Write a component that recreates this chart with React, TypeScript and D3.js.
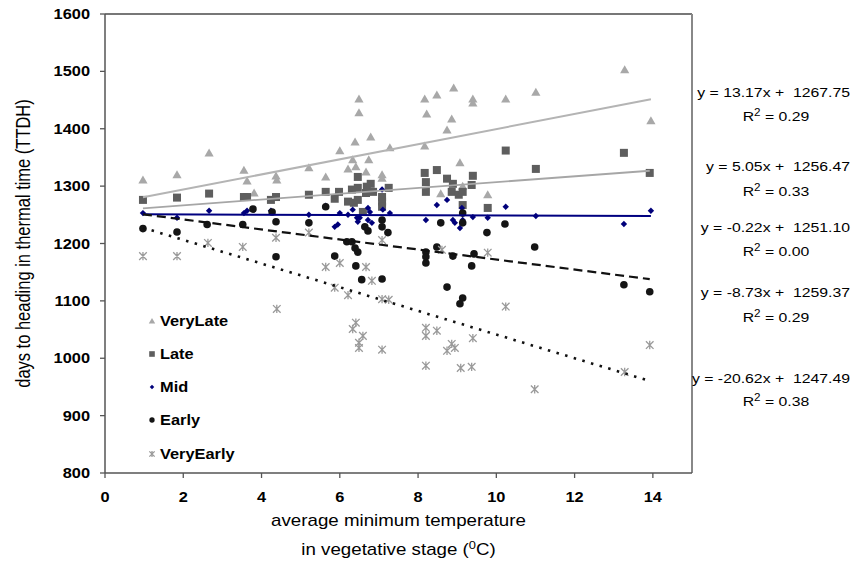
import React from 'react';
import * as d3 from 'd3';

const W = 860;
const H = 562;
const SX = 1.17;
const FONT = '"Liberation Sans", Arial, Helvetica, sans-serif';

// ---- data ----
const seriesNames = ['VeryLate', 'Late', 'Mid', 'Early', 'VeryEarly'];

const veryLateX = [0.97, 1.84, 2.66, 3.55, 3.63, 3.81, 4.37, 4.39, 5.21, 5.64, 6.0, 6.39, 6.49, 6.49, 6.79, 6.74, 6.33, 6.21, 6.41, 6.67, 7.08, 7.08, 7.28, 8.17, 8.48, 8.91, 9.4, 9.4, 10.24, 11.01, 8.22, 8.86, 8.74, 8.17, 9.07, 8.58, 9.14, 9.78, 13.28, 13.95];
const veryLateY = [1311, 1320, 1358, 1328, 1309, 1288, 1318, 1311, 1332, 1316, 1362, 1377, 1452, 1428, 1386, 1346, 1346, 1330, 1334, 1325, 1320, 1314, 1367, 1452, 1459, 1471, 1452, 1445, 1452, 1464, 1426, 1417, 1398, 1370, 1341, 1287, 1300, 1285, 1503, 1414];

const lateX = [0.97, 1.84, 2.66, 3.55, 3.63, 4.24, 4.37, 5.21, 5.64, 5.98, 5.87, 6.31, 6.46, 6.46, 6.69, 6.79, 6.85, 6.67, 6.21, 6.36, 6.46, 7.08, 7.08, 7.08, 6.59, 7.25, 8.17, 8.48, 8.2, 8.2, 8.74, 8.89, 8.86, 9.04, 9.14, 9.37, 9.4, 9.14, 9.78, 10.24, 11.01, 13.26, 13.92];
const lateY = [1276, 1280, 1287, 1281, 1281, 1276, 1281, 1285, 1290, 1290, 1278, 1294, 1297, 1316, 1299, 1304, 1290, 1288, 1273, 1271, 1276, 1281, 1273, 1264, 1255, 1297, 1323, 1328, 1307, 1290, 1313, 1304, 1290, 1285, 1290, 1302, 1318, 1267, 1262, 1362, 1330, 1358, 1323];

const midX = [0.97, 1.84, 2.66, 3.55, 3.63, 4.24, 5.21, 5.64, 5.87, 5.95, 6.0, 6.21, 6.33, 6.44, 6.46, 6.51, 6.72, 6.77, 6.72, 6.82, 7.08, 7.1, 7.28, 8.2, 8.48, 8.74, 8.89, 8.94, 9.07, 9.14, 9.12, 9.4, 9.78, 10.24, 11.01, 13.26, 13.95];
const midY = [1253, 1245, 1257, 1253, 1257, 1257, 1250, 1266, 1229, 1233, 1253, 1250, 1259, 1245, 1238, 1245, 1262, 1255, 1241, 1236, 1294, 1259, 1253, 1241, 1267, 1276, 1241, 1236, 1227, 1241, 1262, 1246, 1245, 1264, 1248, 1234, 1257];

const earlyX = [0.97, 1.84, 2.61, 3.52, 3.78, 4.27, 4.37, 4.37, 5.21, 5.64, 5.87, 6.18, 6.31, 6.39, 6.46, 6.41, 6.56, 7.08, 7.23, 7.08, 7.08, 6.64, 6.72, 8.2, 8.2, 8.2, 8.48, 8.58, 8.74, 8.89, 9.07, 9.14, 9.14, 9.14, 9.37, 9.43, 9.76, 10.22, 10.98, 13.26, 13.92];
const earlyY = [1226, 1220, 1233, 1233, 1260, 1255, 1238, 1177, 1236, 1264, 1178, 1203, 1203, 1192, 1185, 1161, 1137, 1138, 1219, 1241, 1229, 1229, 1222, 1185, 1177, 1166, 1194, 1236, 1124, 1178, 1095, 1105, 1253, 1236, 1161, 1182, 1219, 1234, 1194, 1128, 1116];

const veryEarlyX = [0.97, 1.84, 2.63, 3.52, 4.37, 4.39, 5.21, 5.64, 6.0, 5.87, 6.21, 6.67, 6.82, 7.08, 7.08, 7.25, 6.41, 6.33, 6.59, 6.49, 6.49, 7.08, 8.61, 9.78, 10.24, 8.2, 8.2, 8.48, 8.86, 8.74, 8.94, 9.4, 8.2, 9.09, 9.37, 10.98, 13.28, 13.92];
const veryEarlyY = [1178, 1178, 1201, 1194, 1210, 1086, 1219, 1159, 1166, 1123, 1110, 1159, 1135, 1206, 1103, 1102, 1062, 1051, 1039, 1027, 1018, 1015, 1189, 1184, 1090, 1053, 1039, 1048, 1025, 1013, 1018, 1035, 987, 983, 985, 946, 976, 1023];

const slopes = [13.17, 5.05, -0.22, -8.73, -20.62];
const intercepts = [1267.75, 1256.47, 1251.1, 1259.37, 1247.49];
const r2Values = ['0.29', '0.33', '0.00', '0.29', '0.38'];

const yTicks = [800, 900, 1000, 1100, 1200, 1300, 1400, 1500, 1600];
const xTicks = [0, 2, 4, 6, 8, 10, 12, 14];

const yTitle = 'days to heading in thermal time (TTDH)';
const xTitle1 = 'average minimum temperature';

// ---- layout ----
const PL = 105, PR = 692, PT = 14, PB = 473;
const eqBaselines = [97, 171, 232, 297, 383];
const r2Baselines = [121, 196, 256, 322, 406];
const legendYs = [321, 354, 387, 420, 454];

const xs = [veryLateX, lateX, midX, earlyX, veryEarlyX];
const ys = [veryLateY, lateY, midY, earlyY, veryEarlyY];

const markerColors = ['#a8a8a8', '#5e5e5e', '#00007a', '#151515', '#9a9a9a'];
const lineColors = ['#b4b4b4', '#a6a6a6', '#000080', '#111111', '#111111'];
const lineDash = [null, null, null, '9,5', '2.5,6.5'];
const lineWidth = [2, 1.8, 2, 2.2, 2.6];

function Marker({ kind, cx, cy, s = 1 }: { kind: number; cx: number; cy: number; s?: number }) {
  const c = markerColors[kind];
  if (kind === 0) {
    const w = 4.6 * s, h = 8 * s;
    return <path d={`M${cx},${cy - h * 0.55}L${cx + w},${cy + h * 0.45}L${cx - w},${cy + h * 0.45}Z`} fill={c} />;
  }
  if (kind === 1) {
    const a = 4 * s;
    return <rect x={cx - a} y={cy - a} width={2 * a} height={2 * a} fill={c} />;
  }
  if (kind === 2) {
    const a = 3.2 * s;
    return <path d={`M${cx},${cy - a}L${cx + a},${cy}L${cx},${cy + a}L${cx - a},${cy}Z`} fill={c} />;
  }
  if (kind === 3) {
    return <circle cx={cx} cy={cy} r={3.8 * s} fill={c} />;
  }
  const a = 3.8 * s;
  return (
    <path
      d={`M${cx - a},${cy - a}L${cx + a},${cy + a}M${cx - a},${cy + a}L${cx + a},${cy - a}M${cx},${cy - a * 1.1}L${cx},${cy + a * 1.1}`}
      stroke={c}
      strokeWidth={1.3}
      fill="none"
    />
  );
}

function T({ x, y, anchor = 'start', size = 14, weight = 'normal', rotate = 0, children }: any) {
  return (
    <text
      transform={`translate(${x},${y}) scale(${SX},1)${rotate ? ` rotate(${rotate})` : ''}`}
      textAnchor={anchor}
      fontSize={size}
      fontWeight={weight}
      fontFamily={FONT}
      fill="#000"
      style={{ whiteSpace: 'pre' }}
    >
      {children}
    </text>
  );
}

export default function App() {
  const x = d3.scaleLinear().domain([0, 15]).range([PL, PR]);
  const y = d3.scaleLinear().domain([800, 1600]).range([PB, PT]);
  const line = d3
    .line<number>()
    .x((d) => d)
    .y((d) => d);

  const trend = (i: number) => {
    const [x0, x1] = d3.extent(xs[i]) as [number, number];
    const pts: [number, number][] = [x0, x1].map((v) => [x(v), y(slopes[i] * v + intercepts[i])]);
    return d3.line()(pts) as string;
  };
  void line;

  const fmtEq = (i: number) => `y = ${slopes[i].toFixed(2)}x +  ${intercepts[i].toFixed(2)}`;

  return (
    <svg width={W} height={H} style={{ position: 'absolute', left: 0, top: 0, background: '#fff' }}>
      <rect width={W} height={H} fill="#fff" />
      {/* frame */}
      <line x1={PL} y1={PT} x2={PR} y2={PT} stroke="#777" strokeWidth={2} />
      <line x1={PR} y1={PT} x2={PR} y2={PB} stroke="#888" strokeWidth={2} />
      <line x1={PL} y1={PT} x2={PL} y2={PB} stroke="#555" strokeWidth={1.5} />
      <line x1={PL} y1={PB} x2={PR} y2={PB} stroke="#555" strokeWidth={1.5} />
      {yTicks.map((t) => (
        <g key={'y' + t}>
          <line x1={PL - 5} x2={PL} y1={y(t)} y2={y(t)} stroke="#555" strokeWidth={1.3} />
          <T x={90} y={y(t) + 5} anchor="end" size={14} weight="bold">
            {t}
          </T>
        </g>
      ))}
      {xTicks.map((t) => (
        <g key={'x' + t}>
          <line x1={x(t)} x2={x(t)} y1={PB} y2={PB + 5} stroke="#555" strokeWidth={1.3} />
          <T x={x(t)} y={502} anchor="middle" size={14} weight="bold">
            {t}
          </T>
        </g>
      ))}
      {/* markers */}
      {xs.map((arr, i) => (
        <g key={'s' + i}>
          {arr.map((v, j) => (
            <Marker key={j} kind={i} cx={x(v)} cy={y(ys[i][j])} />
          ))}
        </g>
      ))}
      {/* trendlines */}
      {seriesNames.map((n, i) => (
        <path
          key={'t' + n}
          d={trend(i)}
          stroke={lineColors[i]}
          strokeWidth={lineWidth[i]}
          strokeDasharray={lineDash[i] ?? undefined}
          fill="none"
        />
      ))}
      {/* legend */}
      {seriesNames.map((n, i) => (
        <g key={'l' + n}>
          <Marker kind={i} cx={152} cy={legendYs[i]} s={0.7} />
          <T x={160} y={legendYs[i] + 5} size={14} weight="bold">
            {n}
          </T>
        </g>
      ))}
      {/* equations */}
      {seriesNames.map((n, i) => (
        <g key={'e' + n}>
          <T x={850} y={eqBaselines[i]} anchor="end" size={13.5}>
            {fmtEq(i)}
          </T>
          <T x={776} y={r2Baselines[i]} anchor="middle" size={13.5}>
            R<tspan dy={-5} fontSize={10}>2</tspan>
            <tspan dy={5}>{` = ${r2Values[i]}`}</tspan>
          </T>
        </g>
      ))}
      {/* axis titles */}
      <T x={30} y={(PT + PB) / 2} anchor="middle" size={16.5} rotate={-90}>
        {yTitle}
      </T>
      <T x={(PL + PR) / 2} y={526} anchor="middle" size={16}>
        {xTitle1}
      </T>
      <T x={(PL + PR) / 2} y={555} anchor="middle" size={16}>
        in vegetative stage (<tspan dy={-6} fontSize={11}>0</tspan>
        <tspan dy={6}>C)</tspan>
      </T>
    </svg>
  );
}
